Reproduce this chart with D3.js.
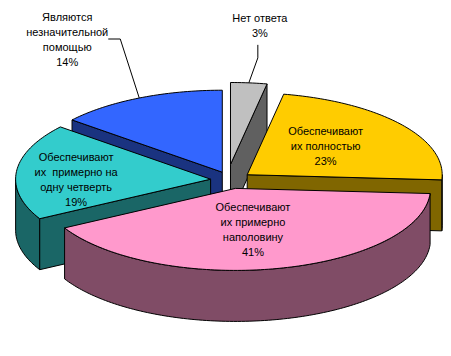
<!DOCTYPE html>
<html>
<head>
<meta charset="utf-8">
<script src="https://cdn.jsdelivr.net/npm/d3@7"></script>
<style>
  body { margin: 0; background: #fff; }
  svg { display: block; }
  text { font-family: Arial, "Liberation Sans", sans-serif; font-size: 11px; fill: #000; white-space: pre; }
</style>
</head>
<body>
<div id="chart"></div>
<script>
// data, clockwise from 12 o'clock
var categories = [
  ["Нет ответа"],
  ["Обеспечивают", "их полностью"],
  ["Обеспечивают", "их примерно", "наполовину"],
  ["Обеспечивают", "их  примерно на", "одну четверть"],
  ["Являются", "незначительной", "помощью"]
];
var values = [3, 23, 41, 19, 14];
var topColors = ["#C0C0C0", "#FFCC00", "#FF99CC", "#33CCCC", "#3366FF"];
var sideColors = ["#606060", "#806600", "#804C66", "#1A6666", "#1A3380"];
var explode = [0.19, 0.105, 0.105, 0.105, 0.105];

var W = 451, H = 356;
var cx = 231, cy = 180, Rx = 195, Ry = 82, depth = 51;

var x = d3.scaleLinear().domain([-1, 1]).range([cx - Rx, cx + Rx]);
var y = d3.scaleLinear().domain([-1, 1]).range([cy + Ry, cy - Ry]);

var svg = d3.select("#chart").append("svg")
    .attr("width", W)
    .attr("height", H);

var arcs = d3.pie().sort(null).value(function (d) { return d; })(values);

arcs.forEach(function (a, i) {
  var m = (a.startAngle + a.endAngle) / 2;
  a.mid = m;
  a.ex = x(explode[i] * Math.sin(m)) - cx;
  a.ey = y(explode[i] * Math.cos(m)) - cy;
  a.i = i;
});
// the small back slice sits a bit further left in the original (perspective)
arcs[0].ex -= 4;

function pt(a, ang, r, z) {
  return [x(r * Math.sin(ang)) + a.ex, y(r * Math.cos(ang)) + a.ey + z];
}

function arcPts(a, a0, a1, z) {
  var n = Math.max(2, Math.ceil((a1 - a0) / 0.02));
  var pts = [];
  for (var k = 0; k <= n; k++) {
    pts.push(pt(a, a0 + (a1 - a0) * k / n, 1, z));
  }
  return pts;
}

var line = d3.line().curve(d3.curveLinearClosed);

// back slices first
var order = arcs.slice().sort(function (p, q) { return p.ey - q.ey; });

order.forEach(function (a) {
  var g = svg.append("g").attr("class", "slice");
  var s = a.startAngle, e = a.endAngle;
  var faces = [];

  // outer wall, front half only
  var w0 = Math.max(s, Math.PI / 2), w1 = Math.min(e, 3 * Math.PI / 2);
  if (w1 > w0) {
    faces.push(arcPts(a, w0, w1, 0).concat(arcPts(a, w0, w1, depth).reverse()));
  }
  // cut faces
  if (Math.sin(s) < -1e-6) {
    faces.push([pt(a, s, 0, 0), pt(a, s, 1, 0), pt(a, s, 1, depth), pt(a, s, 0, depth)]);
  }
  if (Math.sin(e) > 1e-6) {
    faces.push([pt(a, e, 0, 0), pt(a, e, 1, 0), pt(a, e, 1, depth), pt(a, e, 0, depth)]);
  }

  faces.forEach(function (f) {
    g.append("path")
      .attr("d", line(f))
      .attr("fill", sideColors[a.i])
      .attr("stroke", "#000")
      .attr("stroke-width", 1)
      .attr("stroke-linejoin", "round");
  });

  // top face
  g.append("path")
    .attr("d", line([pt(a, s, 0, 0)].concat(arcPts(a, s, e, 0))))
    .attr("fill", topColors[a.i])
    .attr("stroke", "#000")
    .attr("stroke-width", 1)
    .attr("stroke-linejoin", "round");
});

// label placement: radius along mid angle + nudge; leader for outside labels
var labelLayout = [
  { r: 1.0, dx: 11, dy: -57, leader: true, lx: -2, ly: 19, bend: 13 },
  { r: 0.6, dx: -14, dy: 1 },
  { r: 0.6, dx: -8, dy: -7 },
  { r: 0.6, dx: -18, dy: 4.5 },
  { r: 1.0, dx: -72, dy: -59, leader: true, lx: 41, ly: 0, bend: 12 }
];
var lineH = 15;

arcs.forEach(function (a, i) {
  var L = labelLayout[i];
  var anchor = pt(a, a.mid, L.r, 0);
  var lc = [anchor[0] + L.dx, anchor[1] + L.dy];
  var lines = categories[i].concat([values[i] + "%"]);
  var top = lc[1] - (lines.length - 1) * lineH / 2;

  var t = svg.append("text").attr("text-anchor", "middle");
  lines.forEach(function (s, k) {
    t.append("tspan")
      .attr("x", lc[0])
      .attr("y", top + k * lineH + 4)
      .text(s);
  });

  if (L.leader) {
    var rim = pt(a, a.mid, 1, 0);
    var p0 = [lc[0] + L.lx, lc[1] + L.ly];
    var p1 = i === 0 ? [p0[0], p0[1] + L.bend] : [p0[0] + L.bend, p0[1]];
    svg.append("path")
      .attr("d", d3.line()([p0, p1, rim]))
      .attr("fill", "none")
      .attr("stroke", "#000")
      .attr("stroke-width", 1);
  }
});
</script>
</body>
</html>
